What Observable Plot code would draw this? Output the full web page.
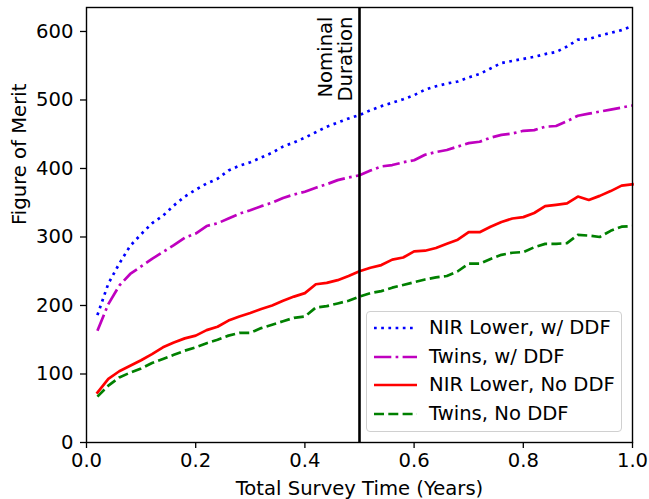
<!DOCTYPE html>
<html>
<head>
<meta charset="utf-8">
<script src="https://cdn.jsdelivr.net/npm/d3@7"></script>
<script src="https://cdn.jsdelivr.net/npm/@observablehq/plot@0.6"></script>
<style>
  html, body { margin: 0; padding: 0; background: #fff; }
  #wrap { position: relative; width: 649px; height: 499px; font-family: "DejaVu Sans", sans-serif; }
  #legend { position: absolute; left: 366px; top: 311px; width: 256px; height: 121px;
    border: 1px solid #d0d0d0; border-radius: 4px; background: rgba(255,255,255,0.8); box-sizing: border-box; }
  .row { position: absolute; left: 0; height: 28px; width: 100%; }
  .row svg { position: absolute; left: 6px; top: 0; }
  .row span { position: absolute; left: 62px; top: 2px; font-size: 19.6px; line-height: 24px; color: #000; white-space: nowrap; }
</style>
</head>
<body>
<div id="wrap"><div id="chart"></div><div id="legend"></div></div>
<script>
// ---- data ----
const years = [0.02,0.04,0.06,0.08,0.10,0.12,0.14,0.16,0.18,0.20,
               0.22,0.24,0.26,0.28,0.30,0.32,0.34,0.36,0.38,0.40,
               0.42,0.44,0.46,0.48,0.50,0.52,0.54,0.56,0.58,0.60,
               0.62,0.64,0.66,0.68,0.70,0.72,0.74,0.76,0.78,0.80,
               0.82,0.84,0.86,0.88,0.90,0.92,0.94,0.96,0.98,1.00];
const nirLowerDDF = [186,232,261,287,304,320,331,346,359,369,
                     378,385,397,404,409,416,423,432,438,445,
                     453,461,467,473,478,485,491,496,501,507,
                     515,520,524,527,533,538,546,554,557,560,
                     563,567,570,578,588,589,594,598,602,608];
const twinsDDF = [163,202,229,246,257,268,278,288,299,305,
                  316,320,327,334,339,345,350,357,362,366,
                  372,377,383,387,390,397,403,405,409,412,
                  420,424,427,432,437,439,445,449,451,455,
                  456,461,462,469,477,480,483,486,489,492];
const nirLowerNoDDF = [73,93,104,112,120,129,139,146,152,156,
                       164,169,178,184,189,195,200,207,213,218,
                       231,233,237,243,250,255,259,267,270,279,
                       280,284,290,296,307,307,315,322,327,329,
                       335,345,347,349,359,354,360,367,375,377];
const twinsNoDDF = [67,83,95,102,108,116,122,128,134,139,
                    145,150,156,160,160,167,172,177,182,184,
                    197,199,203,207,213,218,221,226,230,234,
                    238,241,243,250,261,261,268,274,277,278,
                    285,290,290,291,303,302,300,309,315,316];
const seriesNames = ["NIR Lower, w/ DDF", "Twins, w/ DDF", "NIR Lower, No DDF", "Twins, No DDF"];
const xTicks = [0, 0.2, 0.4, 0.6, 0.8, 1.0];
const yTicks = [0, 100, 200, 300, 400, 500, 600];
const nominalDuration = [0.5];

// ---- styles ----
const FS = 19.6;
const styles = [
  {stroke: "#0000ff", dash: "2.7,4.5"},
  {stroke: "#bf00bf", dash: "17.3,4.3,2.7,4.3"},
  {stroke: "#ff0000", dash: null},
  {stroke: "#008000", dash: "10,4.3"}
];
const values = [nirLowerDDF, twinsDDF, nirLowerNoDDF, twinsNoDDF];

const lineMarks = values.map((vals, i) => {
  const rows = years.map((x, j) => ({x, y: vals[j]}));
  return Plot.line(rows, {
    x: "x", y: "y", stroke: styles[i].stroke, strokeWidth: 2.7,
    strokeDasharray: styles[i].dash || undefined,
    strokeLinejoin: "round", strokeLinecap: styles[i].dash ? "butt" : "square"
  });
});

const chart = Plot.plot({
  width: 649, height: 499,
  marginLeft: 86, marginRight: 17, marginTop: 7, marginBottom: 57,
  style: {fontFamily: "DejaVu Sans, sans-serif", fontSize: FS + "px", color: "black", background: "white"},
  x: {domain: [0, 1]},
  y: {domain: [0, 635]},
  marks: [
    Plot.axisX({ticks: xTicks, tickFormat: d3.format(".1f"), tickSize: 6, tickPadding: 5, label: null, strokeWidth: 1.3}),
    Plot.axisY({ticks: yTicks, tickSize: 6, tickPadding: 7, label: null, strokeWidth: 1.3}),
    ...lineMarks,
    Plot.ruleX(nominalDuration, {x: d => d, stroke: "black", strokeWidth: 2.6}),
    Plot.text(nominalDuration, {x: d => d, text: () => "Nominal\nDuration", frameAnchor: "top",
      rotate: -90, textAnchor: "end", lineAnchor: "bottom", dx: -8, dy: 9, fontSize: FS, fill: "black"}),
    Plot.text(["Total Survey Time (Years)"], {frameAnchor: "bottom", dy: 52, fontSize: FS, fill: "black"}),
    Plot.text(["Figure of Merit"], {frameAnchor: "left", rotate: -90, dx: -67, fontSize: FS, fill: "black"}),
    Plot.frame({stroke: "black", strokeWidth: 1.4})
  ]
});
document.getElementById("chart").appendChild(chart);

// ---- legend ----
const legend = document.getElementById("legend");
seriesNames.forEach((name, i) => {
  const row = document.createElement("div");
  row.className = "row";
  row.style.top = (2 + i * 28.6) + "px";
  const st = styles[i];
  row.innerHTML = `<svg width="46" height="28"><line x1="1" x2="44" y1="14" y2="14" stroke="${st.stroke}" stroke-width="2.7" ${st.dash ? `stroke-dasharray="${st.dash}"` : ""} stroke-linecap="butt"/></svg><span>${name}</span>`;
  legend.appendChild(row);
});
</script>
</body>
</html>
